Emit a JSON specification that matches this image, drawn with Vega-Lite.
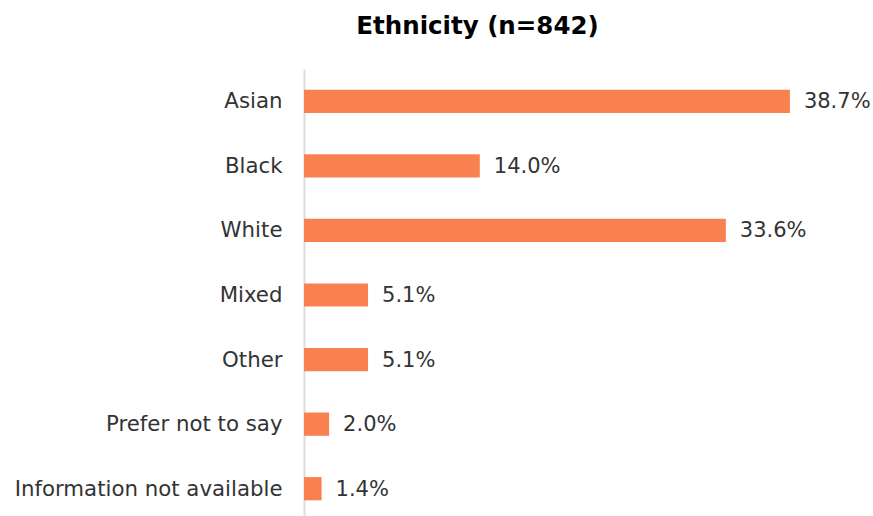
{
  "$schema": "https://vega.github.io/schema/vega-lite/v6.json",
  "autosize": "none",
  "padding": {"left": 304, "top": 69, "right": 4, "bottom": 0},
  "width": 565,
  "height": 452,
  "background": "white",
  "title": {
    "text": "Ethnicity (n=842)",
    "font": "DejaVu Sans",
    "fontSize": 24.5,
    "fontWeight": "bold",
    "color": "#000000",
    "anchor": "middle",
    "frame": "group",
    "dx": -109,
    "offset": 30
  },
  "data": {
    "values": [
      {"category": "Asian", "pct": 38.7, "label": "38.7%"},
      {"category": "Black", "pct": 14.0, "label": "14.0%"},
      {"category": "White", "pct": 33.6, "label": "33.6%"},
      {"category": "Mixed", "pct": 5.1, "label": "5.1%"},
      {"category": "Other", "pct": 5.1, "label": "5.1%"},
      {"category": "Prefer not to say", "pct": 2.0, "label": "2.0%"},
      {"category": "Information not available", "pct": 1.4, "label": "1.4%"}
    ]
  },
  "encoding": {
    "y": {
      "field": "category",
      "type": "nominal",
      "sort": null,
      "scale": {"paddingInner": 0.64, "paddingOuter": 0.32},
      "axis": {
        "title": null,
        "ticks": false,
        "domain": true,
        "domainColor": "#dddddd",
        "domainWidth": 2,
        "labelFont": "DejaVu Sans",
        "labelFontSize": 21.3,
        "labelColor": "#333333",
        "labelPadding": 22,
        "labelLimit": 0,
        "labelOffset": 1
      }
    },
    "x": {
      "field": "pct",
      "type": "quantitative",
      "scale": {"domain": [0, 45]},
      "axis": null
    }
  },
  "layer": [
    {"mark": {"type": "bar", "color": "#F9814F"}},
    {
      "mark": {"type": "text", "align": "left", "dx": 14, "dy": 1, "font": "DejaVu Sans", "fontSize": 21, "color": "#333333"},
      "encoding": {"text": {"field": "label"}}
    }
  ],
  "config": {"view": {"stroke": null}}
}
